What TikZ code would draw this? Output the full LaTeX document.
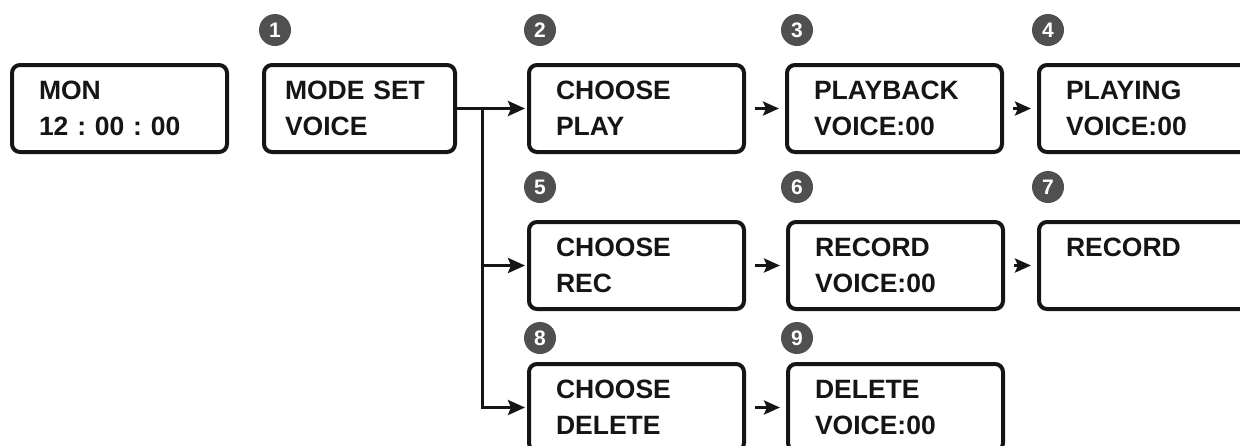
\documentclass[tikz,border=0pt]{standalone}
\usepackage{fontspec}
\setmainfont{Liberation Sans}
\usetikzlibrary{arrows.meta}
\definecolor{ink}{HTML}{151515}
\definecolor{badgegrey}{HTML}{505050}
\begin{document}
\begin{tikzpicture}[x=1pt,y=-1pt,
  lcd/.style={draw=ink, line width=4pt, rounded corners=8pt, anchor=north west,
    minimum height=87pt, inner ysep=0pt, inner xsep=27pt, text width=161pt, align=left,
    font=\fontsize{26.5}{36}\selectfont\bfseries\frenchspacing, text=ink},
  badge/.style={circle, fill=badgegrey, text=white, minimum size=32pt, inner sep=0pt,
    font=\fontsize{21}{21}\selectfont\bfseries},
  conn/.style={draw=ink, line width=3pt, line join=miter,
    -{Stealth[length=17pt,width=15pt,inset=3pt]}},
  short/.style={conn, -{Stealth[length=16pt,width=14pt,inset=3pt]}, shorten <=9pt, shorten >=6pt}]
\useasboundingbox (0,0) rectangle (1240,445);
% boxes
\node[lcd] (mon) at (10,63) {MON\\12 : 00 : 00};
\node[lcd, inner xsep=21pt, text width=149pt] (mode) at (262,63) {MODE SET\\VOICE};
\node[lcd] (play) at (527,63) {CHOOSE\\PLAY};
\node[lcd] (pb) at (785,63) {PLAYBACK\\VOICE:00};
\node[lcd, text width=180pt] (plg) at (1037,63) {PLAYING\\VOICE:00};
\node[lcd] (rec) at (527,220) {CHOOSE\\REC};
\node[lcd] (rv) at (786,220) {RECORD\\VOICE:00};
\node[lcd, text width=180pt] (rr) at (1037,220) {RECORD\\\mbox{}};
\node[lcd] (del) at (527,362) {CHOOSE\\DELETE};
\node[lcd] (dv) at (786,362) {DELETE\\VOICE:00};
% badges
\node[badge] (b1) at (275,30) {1};
\node[badge] (b2) at (540,30) {2};
\node[badge] (b3) at (797,30) {3};
\node[badge] (b4) at (1048,30) {4};
\node[badge] (b5) at (540,187) {5};
\node[badge] (b6) at (797,187) {6};
\node[badge] (b7) at (1048,187) {7};
\node[badge] (b8) at (540,338) {8};
\node[badge] (b9) at (797,338) {9};
% connectors
\coordinate (j) at ([xshift=25pt]mode.east);
\draw[conn, shorten >=2pt] (mode.east) -- (play.west);
\draw[conn, shorten >=2pt] (j) |- (rec.west);
\draw[conn, shorten >=2pt] (j) |- (del.west);
\draw[short] (play.east) -- (pb.west);
\draw[short] (pb.east) -- (plg.west);
\draw[short] (rec.east) -- (rv.west);
\draw[short] (rv.east) -- (rr.west);
\draw[short] (del.east) -- (dv.west);
\end{tikzpicture}
\end{document}
